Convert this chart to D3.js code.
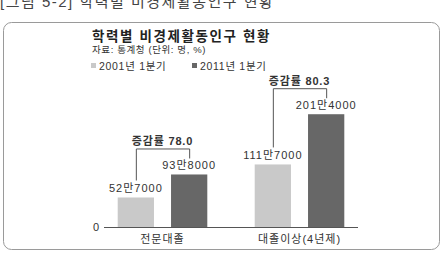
<!DOCTYPE html>
<html>
<head>
<meta charset="utf-8">
<script src="https://cdn.jsdelivr.net/npm/d3@7"></script>
<style>
  html, body { margin: 0; padding: 0; background: #fff; }
  svg { display: block; }
  text { font-family: "Liberation Sans", "Noto Sans CJK KR", sans-serif; }
</style>
</head>
<body>
<div id="chart"></div>
<script>
// 학력별 비경제활동인구 (명)
const categories = ['전문대졸', '대졸이상(4년제)'];
const series = ['2001년 1분기', '2011년 1분기'];
const values2001 = [527000, 1117000];
const values2011 = [938000, 2014000];
const changeRates = ['78.0', '80.3'];

const W = 444, H = 254;
const colors = { light: '#c9c9c9', dark: '#676767', text: '#333', axis: '#555' };

const svg = d3.select('#chart').append('svg')
  .attr('width', W)
  .attr('height', H);

// caption of the figure, cut off at the top
svg.append('text')
  .attr('x', 0)
  .attr('y', 7)
  .attr('font-size', '15px')
  .attr('fill', '#444')
  .attr('letter-spacing', '1.5px')
  .text('[그림 5-2] 학력별 비경제활동인구 현황');

// frame
svg.append('rect')
  .attr('x', 3.5).attr('y', 22.5)
  .attr('width', 436).attr('height', 227)
  .attr('rx', 8)
  .attr('fill', 'none')
  .attr('stroke', '#9a9a9a');

svg.append('text')
  .attr('x', 92).attr('y', 41)
  .attr('font-size', '13.5px')
  .attr('font-weight', 'bold')
  .attr('letter-spacing', '1.6px')
  .attr('fill', '#222')
  .text('학력별 비경제활동인구 현황');

svg.append('text')
  .attr('x', 92).attr('y', 53)
  .attr('font-size', '9.5px')
  .attr('letter-spacing', '0.6px')
  .attr('fill', colors.text)
  .text('자료: 통계청 (단위: 명, %)');

// legend
const legendX = [91, 192];
series.forEach((s, i) => {
  const g = svg.append('g').attr('transform', `translate(${legendX[i]},66)`);
  g.append('rect')
    .attr('x', 0).attr('y', -3)
    .attr('width', 5).attr('height', 5)
    .attr('fill', i === 0 ? colors.light : colors.dark);
  g.append('text')
    .attr('x', 8).attr('y', 4)
    .attr('font-size', '10.5px')
    .attr('letter-spacing', '0.7px')
    .attr('fill', colors.text)
    .text(s);
});

// scales
const x0 = d3.scaleBand()
  .domain(categories)
  .range([104, 358])
  .paddingInner(0.346)
  .paddingOuter(0.1);

const x1 = d3.scaleBand()
  .domain(series)
  .range([0, x0.bandwidth()])
  .paddingInner(0.32);

const y = d3.scaleLinear()
  .domain([0, 2200000])
  .range([227, 227 - 0.56 * 220]);

const rows = categories.map((c, i) => ({
  category: c,
  bars: [
    { key: series[0], value: values2001[i], color: colors.light },
    { key: series[1], value: values2011[i], color: colors.dark }
  ],
  rate: changeRates[i]
}));

const fmt = v => `${Math.floor(v / 10000)}만${String(v % 10000).padStart(4, '0')}`;

// axis line and zero label
svg.append('line')
  .attr('x1', x0.range()[0]).attr('x2', x0.range()[1])
  .attr('y1', y(0) + 0.5).attr('y2', y(0) + 0.5)
  .attr('stroke', colors.axis);

svg.append('text')
  .attr('x', 96).attr('y', y(0) + 4)
  .attr('text-anchor', 'middle')
  .attr('font-size', '11px')
  .attr('fill', colors.text)
  .text('0');

const groups = svg.selectAll('.group')
  .data(rows)
  .enter().append('g')
  .attr('class', 'group')
  .attr('transform', d => `translate(${x0(d.category)},0)`);

groups.selectAll('rect')
  .data(d => d.bars)
  .enter().append('rect')
  .attr('x', d => x1(d.key))
  .attr('y', d => y(d.value))
  .attr('width', x1.bandwidth())
  .attr('height', d => y(0) - y(d.value))
  .attr('fill', d => d.color);

groups.selectAll('.val')
  .data(d => d.bars)
  .enter().append('text')
  .attr('class', 'val')
  .attr('x', d => x1(d.key) + x1.bandwidth() / 2)
  .attr('y', d => y(d.value) - 5)
  .attr('text-anchor', 'middle')
  .attr('font-size', '11px')
  .attr('letter-spacing', '1px')
  .attr('fill', colors.text)
  .text(d => fmt(d.value));

groups.append('text')
  .attr('x', x0.bandwidth() / 2)
  .attr('y', y(0) + 16)
  .attr('text-anchor', 'middle')
  .attr('font-size', '11px')
  .attr('letter-spacing', '1px')
  .attr('fill', colors.text)
  .text(d => d.category);

// brackets showing the rate of change
groups.each(function(d) {
  const g = d3.select(this);
  const xa = x1(d.bars[0].key) + x1.bandwidth() / 2;
  const xb = x1(d.bars[1].key) + x1.bandwidth() / 2;
  const ya = y(d.bars[0].value) - 17;
  const yb = y(d.bars[1].value) - 16;
  const top = Math.min(ya, yb) - 10;
  g.append('path')
    .attr('d', `M${xa + 0.5},${ya}V${top + 0.5}H${xb + 0.5}V${yb}`)
    .attr('fill', 'none')
    .attr('stroke', colors.axis);
  g.append('text')
    .attr('x', (xa + xb) / 2)
    .attr('y', top - 3)
    .attr('text-anchor', 'middle')
    .attr('font-size', '11px')
    .attr('font-weight', 'bold')
    .attr('letter-spacing', '0.8px')
    .attr('fill', colors.text)
    .text(`증감률 ${d.rate}`);
});
</script>
</body>
</html>
